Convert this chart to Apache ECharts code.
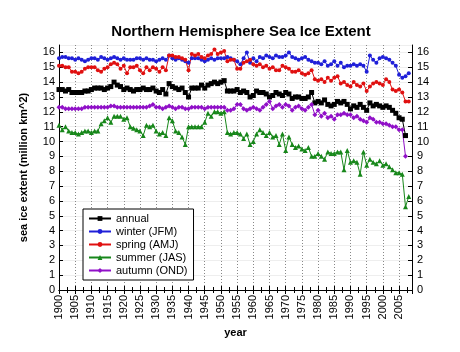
<!DOCTYPE html>
<html>
<head>
<meta charset="utf-8">
<script src="https://cdn.jsdelivr.net/npm/echarts@6/dist/echarts.min.js"></script>
<style>
  html, body { margin: 0; padding: 0; background: #fff; }
  #chart { width: 460px; height: 352px; }
</style>
</head>
<body>
<div id="chart"></div>
<script>
// years
var firstYear = 1900;

// million km^2
var annual = [
  13.5,13.5,13.4,13.5,13.3,13.3,13.3,13.3,13.4,13.4,
  13.5,13.6,13.6,13.6,13.5,13.6,13.7,14.0,13.8,13.7,
  13.5,13.6,13.5,13.4,13.5,13.5,13.6,13.5,13.5,13.6,
  13.4,13.3,13.5,13.2,13.9,13.7,13.6,13.5,13.6,13.3,
  13.0,13.6,13.6,13.6,13.8,13.6,13.8,13.9,14.0,13.9,
  14.0,14.1,13.4,13.4,13.4,13.5,13.3,13.4,13.3,13.0,
  13.1,13.4,13.3,13.3,13.2,13.0,13.1,13.3,13.2,13.1,
  13.3,13.2,12.9,13.0,13.0,12.9,12.9,13.0,13.3,12.6,
  12.7,12.6,12.8,12.5,12.4,12.5,12.7,12.6,12.7,12.5,
  12.2,12.4,12.3,12.5,12.3,12.1,12.6,12.4,12.5,12.4,
  12.3,12.4,12.3,12.1,11.9,11.6,11.5,10.4
];
var winter = [
  15.6,15.7,15.7,15.6,15.6,15.5,15.6,15.5,15.4,15.5,
  15.6,15.6,15.5,15.7,15.6,15.5,15.6,15.7,15.6,15.5,
  15.6,15.5,15.5,15.5,15.6,15.6,15.5,15.6,15.5,15.5,
  15.4,15.5,15.6,15.5,15.8,15.6,15.5,15.6,15.5,15.4,
  15.3,15.6,15.6,15.6,15.5,15.4,15.5,15.6,15.5,15.6,
  15.6,15.6,15.7,15.6,15.5,15.4,15.2,15.6,16.0,15.3,
  15.6,15.4,15.7,15.6,15.8,15.7,15.6,15.8,15.7,15.7,
  15.8,16.0,15.7,15.6,15.5,15.6,15.7,15.5,15.4,15.3,
  15.3,15.2,15.4,15.1,15.2,15.4,15.1,15.3,15.0,15.1,
  15.1,15.2,15.1,15.2,15.1,14.7,15.8,15.5,15.3,15.6,
  15.7,15.6,15.5,15.3,15.1,14.5,14.3,14.4,14.6
];
var spring = [
  15.1,15.1,15.0,15.0,14.7,14.7,14.6,14.7,14.9,15.0,
  15.0,15.0,14.8,14.7,14.9,15.0,15.2,15.3,15.2,14.9,
  15.1,14.6,15.0,15.0,15.1,14.8,14.6,15.0,14.8,15.0,
  14.9,14.7,15.0,14.8,15.8,15.8,15.7,15.7,15.6,15.5,
  14.8,15.9,15.8,15.9,15.7,15.6,15.8,15.9,16.2,15.9,
  16.0,16.1,15.4,15.5,15.5,14.9,14.9,15.3,15.4,15.5,
  15.2,15.1,15.2,15.0,15.1,14.9,15.0,14.8,14.8,15.1,
  15.0,14.9,14.7,14.7,14.8,14.6,14.5,14.6,14.8,14.2,
  14.1,14.2,14.0,14.3,14.1,14.3,14.4,13.9,14.0,13.8,
  13.7,14.0,13.8,13.7,13.9,13.4,13.7,13.9,14.0,13.9,
  13.8,14.2,14.0,13.5,13.4,13.5,13.3,12.7,12.7
];
var summer = [
  11.1,10.8,11.0,10.7,10.6,10.6,10.5,10.6,10.7,10.7,
  10.6,10.7,10.7,11.2,11.4,11.6,11.3,11.7,11.7,11.7,
  11.5,11.6,11.0,10.9,10.8,10.7,10.4,11.1,11.0,11.1,
  10.7,10.5,10.6,10.4,11.6,11.4,10.7,10.6,10.3,9.8,
  11.0,11.0,11.0,11.0,11.0,11.3,11.9,11.7,12.0,12.0,
  11.9,12.0,10.6,10.5,10.6,10.6,10.5,10.2,10.5,9.8,
  10.0,10.5,10.8,10.6,10.4,10.6,10.3,10.4,9.8,10.5,
  9.4,10.3,9.8,9.6,9.7,9.5,9.4,9.6,9.0,9.0,
  9.2,9.0,8.8,9.3,9.2,9.2,9.3,9.3,8.1,9.4,
  8.6,8.7,8.6,7.8,9.3,8.4,8.8,8.6,8.5,8.7,
  8.4,8.5,8.3,8.1,7.9,7.9,7.8,5.6,6.3
];
var autumn = [
  12.3,12.3,12.2,12.2,12.2,12.2,12.2,12.2,12.3,12.3,
  12.3,12.3,12.3,12.3,12.3,12.3,12.4,12.4,12.3,12.3,
  12.3,12.3,12.3,12.3,12.3,12.3,12.3,12.3,12.4,12.5,
  12.3,12.3,12.2,12.3,12.4,12.3,12.2,12.3,12.3,12.2,
  12.2,12.3,12.3,12.3,12.3,12.2,12.3,12.3,12.3,12.3,
  12.3,12.3,12.1,12.1,12.2,12.5,12.5,12.2,12.1,12.2,
  12.3,12.2,12.1,12.3,12.5,12.7,12.2,12.4,12.5,12.3,
  12.5,12.4,12.1,12.3,12.4,12.2,12.1,12.3,12.5,11.8,
  12.1,11.7,11.9,11.6,11.7,11.5,11.8,11.8,11.9,11.8,
  11.8,11.6,11.7,11.5,11.4,11.3,11.6,11.5,11.3,11.3,
  11.2,11.2,11.1,11.0,11.0,10.8,10.8,9.0
];

var names = ['annual', 'winter (JFM)', 'spring (AMJ)', 'summer (JAS)', 'autumn (OND)'];
var colors = ['#000000', '#1f1fd8', '#e01010', '#17871a', '#9010c8'];
var symbols = ['rect', 'circle', 'circle', 'triangle', 'diamond'];
var sizes = [5, 4, 4, 5, 5];

function pairs(arr) {
  return arr.map(function (v, i) { return [firstYear + i, v]; });
}

var font = 'Liberation Sans, Arial, sans-serif';
var chart = echarts.init(document.getElementById('chart'));

var series = [annual, winter, spring, summer, autumn].map(function (arr, i) {
  return {
    name: names[i],
    type: 'line',
    data: pairs(arr),
    symbol: symbols[i],
    symbolSize: sizes[i],
    showAllSymbol: true,
    lineStyle: { color: colors[i], width: 1 },
    itemStyle: { color: colors[i] },
    animation: false
  };
});

chart.setOption({
  backgroundColor: '#fff',
  title: {
    text: 'Northern Hemisphere Sea Ice Extent',
    left: 236, top: 19, textAlign: 'center',
    textStyle: { fontFamily: font, fontSize: 15, fontWeight: 'bold', color: '#000' }
  },
  legend: {
    orient: 'vertical',
    left: 83, top: 209,
    data: names,
    itemWidth: 22, itemHeight: 6, itemGap: 2,
    padding: [4, 6, 4, 5],
    borderColor: '#000', borderWidth: 1,
    backgroundColor: '#fff',
    textStyle: { fontFamily: font, fontSize: 11, color: '#000' }
  },
  grid: { left: 59, right: 48, top: 45, bottom: 62 },
  xAxis: [{
    type: 'value', min: 1900, max: 2009, interval: 5,
    name: 'year', nameLocation: 'middle', nameGap: 31,
    nameTextStyle: { fontFamily: font, fontSize: 11, fontWeight: 'bold', color: '#000' },
    axisLine: { lineStyle: { color: '#000' } },
    axisTick: { inside: true, length: 4, lineStyle: { color: '#000' } },
    minorTick: { show: true, splitNumber: 2, length: 3, lineStyle: { color: '#000' } },
    axisLabel: {
      rotate: 90, fontFamily: font, fontSize: 11, color: '#000', showMaxLabel: false, margin: 5,
      formatter: function (v) { return String(v); }
    },
    splitLine: { show: true, lineStyle: { color: '#888', type: [1, 2], width: 1 } }
  }, {
    type: 'value', min: 1900, max: 2009, interval: 5, position: 'top',
    axisLine: { lineStyle: { color: '#000' } },
    axisTick: { inside: true, length: 4, lineStyle: { color: '#000' } },
    minorTick: { show: true, splitNumber: 2, length: 3, lineStyle: { color: '#000' } },
    axisLabel: { show: false },
    splitLine: { show: false }
  }],
  yAxis: [{
    type: 'value', min: 0, max: 16.5, interval: 1,
    name: 'sea ice extent (million km^2)', nameLocation: 'middle', nameGap: 30,
    nameTextStyle: { fontFamily: font, fontSize: 11, fontWeight: 'bold', color: '#000' },
    axisLine: { show: true, lineStyle: { color: '#000' } },
    axisTick: { show: true, inside: true, length: 4, lineStyle: { color: '#000' } },
    axisLabel: { fontFamily: font, fontSize: 11, color: '#000', showMaxLabel: false, margin: 4 },
    splitLine: { show: true, lineStyle: { color: '#eeeeee', width: 1 } }
  }, {
    type: 'value', min: 0, max: 16.5, interval: 1, position: 'right',
    axisLine: { show: true, lineStyle: { color: '#000' } },
    axisTick: { show: true, inside: true, length: 4, lineStyle: { color: '#000' } },
    axisLabel: { fontFamily: font, fontSize: 11, color: '#000', showMaxLabel: false, margin: 5 },
    splitLine: { show: false }
  }],
  series: series
});
</script>
</body>
</html>
